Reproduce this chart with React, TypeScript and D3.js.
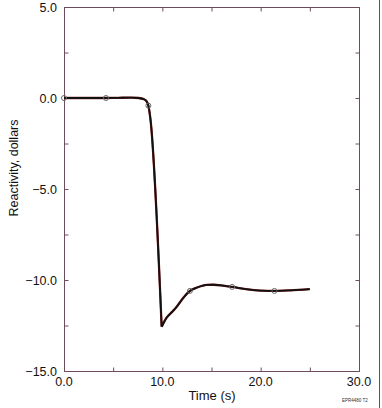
import React from 'react'
import * as d3 from 'd3'

const timeS = [0, 2, 4, 5.5, 6.8, 7.6, 8.1, 8.4, 8.58, 8.8, 9.93, 10.4, 11.0, 11.46, 12.1, 12.8, 13.6, 14.5, 15.2, 16.2, 17.1, 18.5, 20, 21.4, 23, 25]
const reactivity = [0, 0, 0, 0.01, 0.02, 0.0, -0.06, -0.18, -0.42, -1.2, -12.57, -12.1, -11.75, -11.47, -11.0, -10.6, -10.4, -10.27, -10.26, -10.31, -10.38, -10.5, -10.58, -10.6, -10.57, -10.5]

const markerTime = [0, 4.27, 8.58, 12.8, 17.1, 21.4]
const markerValue = [0, 0, -0.42, -10.6, -10.38, -10.6]

const xTicks = [0, 10, 20, 30]
const xMinor = [5, 15, 25]
const yTicks = [5, 0, -5, -10, -15]
const yMinor = [2.5, -2.5, -7.5, -12.5]

const W = 382
const H = 408
const left = 64
const right = 359
const top = 7
const bottom = 371
const axisColor = '#6e4c5e'
const font = 'Liberation Sans, Arial, sans-serif'

export default function App() {
  const x = d3.scaleLinear().domain([0, 30]).range([left, right])
  const y = d3.scaleLinear().domain([-15, 5]).range([bottom, top])

  const pts = timeS.map((t, i) => [t, reactivity[i]] as [number, number])
  // split at the minimum so the bottom of the drop stays a sharp corner
  const iMin = reactivity.indexOf(d3.min(reactivity) as number)
  const line = d3
    .line<[number, number]>()
    .x(d => x(d[0]))
    .y(d => y(d[1]))
    .curve(d3.curveMonotoneX)
  const path = (line(pts.slice(0, iMin + 1)) || '') + (line(pts.slice(iMin)) || '')

  const allX = [...xTicks, ...xMinor]
  const allY = [...yTicks, ...yMinor]

  return (
    <svg
      width={W}
      height={H}
      style={{ position: 'absolute', left: 0, top: 0, background: '#fff' }}
    >
      <rect x={0} y={0} width={W} height={H} fill="#fff" />
      {/* outer frame line on the right */}
      <line x1={379.5} x2={379.5} y1={0} y2={H} stroke={axisColor} strokeWidth={1} />

      {/* plot frame */}
      <rect
        x={left + 0.5}
        y={top + 0.5}
        width={right - left}
        height={bottom - top}
        fill="none"
        stroke={axisColor}
        strokeWidth={1}
      />

      {/* ticks, inward on all four sides */}
      {allX.map(t => (
        <g key={'xt' + t}>
          <line x1={x(t) + 0.5} x2={x(t) + 0.5} y1={bottom + 0.5} y2={bottom - 3.5} stroke={axisColor} />
          <line x1={x(t) + 0.5} x2={x(t) + 0.5} y1={top + 0.5} y2={top + 4.5} stroke={axisColor} />
        </g>
      ))}
      {allY.map(v => (
        <g key={'yt' + v}>
          <line x1={left + 0.5} x2={left + 4.5} y1={y(v) + 0.5} y2={y(v) + 0.5} stroke={axisColor} />
          <line x1={right + 0.5} x2={right - 3.5} y1={y(v) + 0.5} y2={y(v) + 0.5} stroke={axisColor} />
        </g>
      ))}

      {/* tick labels */}
      {xTicks.map(t => (
        <text
          key={'xl' + t}
          x={x(t)}
          y={bottom + 15}
          textAnchor="middle"
          fontFamily={font}
          fontSize={12.5}
          fill="#111"
        >
          {t.toFixed(1)}
        </text>
      ))}
      {yTicks.map(v => (
        <text
          key={'yl' + v}
          x={57}
          y={y(v) + 5}
          textAnchor="end"
          fontFamily={font}
          fontSize={12.5}
          fill="#111"
        >
          {v < 0 ? '\u2212' + Math.abs(v).toFixed(1) : v.toFixed(1)}
        </text>
      ))}

      {/* axis titles */}
      <text
        x={212}
        y={400}
        textAnchor="middle"
        fontFamily={font}
        fontSize={13}
        fill="#111"
      >
        Time (s)
      </text>
      <text
        transform={`translate(18,168) rotate(-90)`}
        textAnchor="middle"
        fontFamily={font}
        fontSize={12.5}
        fill="#111"
      >
        Reactivity, dollars
      </text>
      <text x={342} y={402} fontFamily={font} fontSize={4.5} fill="#333">
        EPR4480 T2
      </text>

      {/* curves */}
      <path d={path} fill="none" stroke="#8a2222" strokeWidth={2.3} />
      <path d={path} fill="none" stroke="#111" strokeWidth={1.8} />

      {/* markers */}
      {markerTime.map((t, i) => (
        <circle
          key={'m' + i}
          cx={x(t)}
          cy={y(markerValue[i])}
          r={2.5}
          fill="none"
          stroke="#666"
          strokeWidth={1}
        />
      ))}
    </svg>
  )
}
